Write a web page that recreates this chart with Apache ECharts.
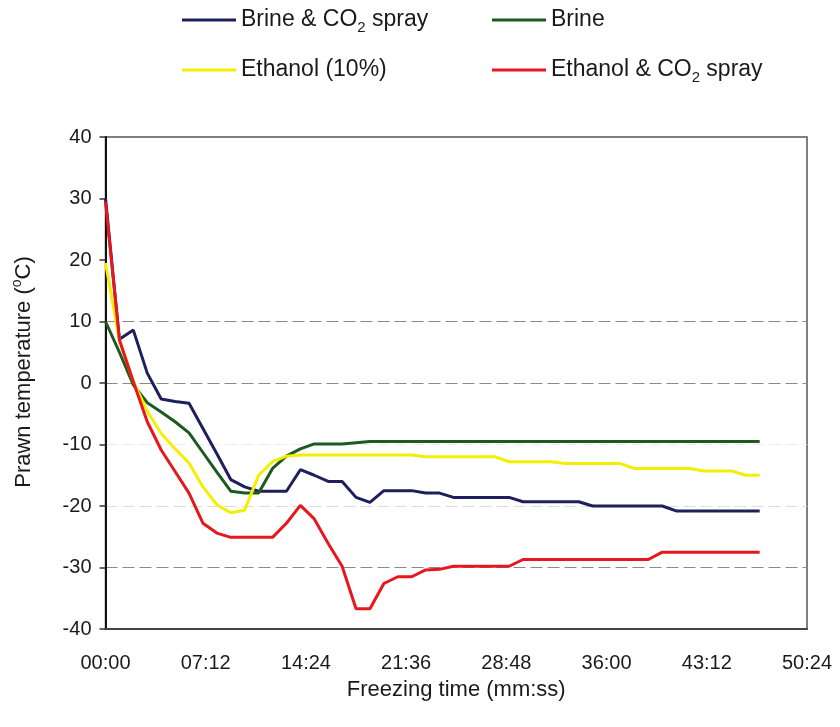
<!DOCTYPE html>
<html>
<head>
<meta charset="utf-8">
<script src="https://cdn.jsdelivr.net/npm/echarts@6/dist/echarts.min.js"></script>
<style>
  html, body { margin: 0; padding: 0; background: #fff; }
  #chart { width: 840px; height: 727px; }
</style>
</head>
<body>
<div id="chart"></div>
<script>
// Sampling times (minutes from start of freezing)
const minutes = [0, 1, 2, 3, 4, 5, 6, 7, 8, 9, 10, 11, 12, 13, 14, 15, 16, 17, 18, 19,
  20, 21, 22, 23, 24, 25, 26, 27, 28, 29, 30, 31, 32, 33, 34, 35, 36, 37, 38, 39,
  40, 41, 42, 43, 44, 45, 46, 47];

// Prawn core temperature (°C) for each freezing medium
const brineCO2 = [30, 7.1, 8.6, 1.6, -2.6, -3.0, -3.3, -7.4, -11.5, -15.7,
  -16.9, -17.6, -17.6, -17.6, -14.1, -15.0, -16.0, -16.0, -18.6, -19.4,
  -17.5, -17.5, -17.5, -17.9, -17.9, -18.6, -18.6, -18.6, -18.6, -18.6,
  -19.3, -19.3, -19.3, -19.3, -19.3, -20.0, -20.0, -20.0, -20.0, -20.0,
  -20.0, -20.8, -20.8, -20.8, -20.8, -20.8, -20.8, -20.8];

const brine = [10, 5.0, -0.3, -3.2, -4.7, -6.3, -8.1, -11.3, -14.5, -17.6,
  -17.9, -17.9, -13.9, -11.9, -10.7, -9.9, -9.9, -9.9, -9.7, -9.5,
  -9.5, -9.5, -9.5, -9.5, -9.5, -9.5, -9.5, -9.5, -9.5, -9.5,
  -9.5, -9.5, -9.5, -9.5, -9.5, -9.5, -9.5, -9.5, -9.5, -9.5,
  -9.5, -9.5, -9.5, -9.5, -9.5, -9.5, -9.5, -9.5];

const ethanol = [19.5, 7.0, 0.3, -4.6, -8.2, -10.7, -13.0, -16.9, -19.8, -21.1,
  -20.7, -15.0, -12.8, -11.9, -11.7, -11.7, -11.7, -11.7, -11.7, -11.7,
  -11.7, -11.7, -11.7, -12.0, -12.0, -12.0, -12.0, -12.0, -12.0, -12.8,
  -12.8, -12.8, -12.8, -13.1, -13.1, -13.1, -13.1, -13.1, -13.9, -13.9,
  -13.9, -13.9, -13.9, -14.3, -14.3, -14.3, -15.0, -15.0];

const ethanolCO2 = [29.5, 7.0, 0.2, -6.3, -10.9, -14.4, -17.9, -22.8, -24.4, -25.1,
  -25.1, -25.1, -25.1, -22.8, -19.9, -22.1, -26.1, -29.8, -36.7, -36.7,
  -32.6, -31.5, -31.5, -30.4, -30.3, -29.8, -29.8, -29.8, -29.8, -29.8,
  -28.7, -28.7, -28.7, -28.7, -28.7, -28.7, -28.7, -28.7, -28.7, -28.7,
  -27.5, -27.5, -27.5, -27.5, -27.5, -27.5, -27.5, -27.5];

// Series names and their legend captions (with CO2 subscript)
const seriesNames = ['Brine & CO2 spray', 'Brine', 'Ethanol (10%)', 'Ethanol & CO2 spray'];
const legendCaptions = ['Brine & CO{sub|2} spray', 'Brine', 'Ethanol (10%)', 'Ethanol & CO{sub|2} spray'];
const seriesColors = ['#1e1f5c', '#1d5a1f', '#f4ef00', '#e8161d'];

const FONT = "'Liberation Sans', Arial, sans-serif";
const TEXT = '#1a1a1a';

function mmss(sec) {
  const m = Math.floor(sec / 60), s = Math.round(sec % 60);
  return String(m).padStart(2, '0') + ':' + String(s).padStart(2, '0');
}

const toPairs = vals => minutes.map((m, i) => [m * 60, vals[i]]);
const seriesValues = [brineCO2, brine, ethanol, ethanolCO2];

const legendPos = [
  { left: 182, top: 5 }, { left: 492, top: 5 },
  { left: 182, top: 55 }, { left: 492, top: 55 }
];

const chart = echarts.init(document.getElementById('chart'), null, { renderer: 'canvas' });

chart.setOption({
  backgroundColor: '#ffffff',
  animation: false,
  legend: seriesNames.map((name, i) => ({
    data: [name],
    left: legendPos[i].left,
    top: legendPos[i].top,
    icon: 'rect',
    itemWidth: 54,
    itemHeight: 3,
    padding: 0,
    selectedMode: false,
    formatter: () => legendCaptions[i],
    textStyle: {
      fontFamily: FONT, fontSize: 23, color: TEXT, lineHeight: 30,
      rich: {
        sub: { fontFamily: FONT, fontSize: 15, lineHeight: 15, verticalAlign: 'bottom', color: TEXT }
      }
    }
  })),
  grid: {
    left: 105.5, right: 33, top: 137, bottom: 98,
    show: true, borderColor: '#555', borderWidth: 1.5, backgroundColor: 'transparent'
  },
  xAxis: {
    type: 'value',
    min: 0, max: 3024, interval: 432,
    name: 'Freezing time (mm:ss)',
    nameLocation: 'middle',
    nameGap: 50,
    nameTextStyle: { fontFamily: FONT, fontSize: 22, color: TEXT },
    axisLine: { show: true, onZero: false, lineStyle: { color: '#444', width: 2 } },
    axisTick: { show: false },
    splitLine: { show: false },
    axisLabel: {
      formatter: v => mmss(v),
      fontFamily: FONT, fontSize: 20, color: TEXT, margin: 24
    }
  },
  yAxis: {
    type: 'value',
    min: -40, max: 40, interval: 10,
    axisLine: { show: true, onZero: false, lineStyle: { color: '#111', width: 2 } },
    axisTick: { show: true, inside: false, length: 6, lineStyle: { color: '#333', width: 1.5 } },
    axisLabel: { fontFamily: FONT, fontSize: 20, color: TEXT, margin: 14 },
    splitLine: {
      show: true,
      lineStyle: {
        type: [12, 5],
        width: 1.2,
        // from -40 up to 40
        color: ['rgba(0,0,0,0)', '#8a8a8a', '#dcdcdc', '#ececec', '#8a8a8a', '#8a8a8a',
                'rgba(0,0,0,0)', 'rgba(0,0,0,0)', 'rgba(0,0,0,0)']
      }
    }
  },
  graphic: [{
    type: 'text',
    x: 24, y: 372,
    rotation: Math.PI / 2,
    style: {
      text: 'Prawn temperature ({sup|o}C)',
      fontFamily: FONT, fontSize: 22, fill: TEXT, lineHeight: 28,
      align: 'center', verticalAlign: 'middle',
      rich: {
        sup: { fontFamily: FONT, fontSize: 14, lineHeight: 14, verticalAlign: 'top', fill: TEXT }
      }
    }
  }],
  series: seriesNames.map((name, i) => ({
    name,
    type: 'line',
    data: toPairs(seriesValues[i]),
    showSymbol: false,
    symbol: 'none',
    smooth: false,
    color: seriesColors[i],
    lineStyle: { color: seriesColors[i], width: 3 },
    z: 2 + i
  }))
});
</script>
</body>
</html>
